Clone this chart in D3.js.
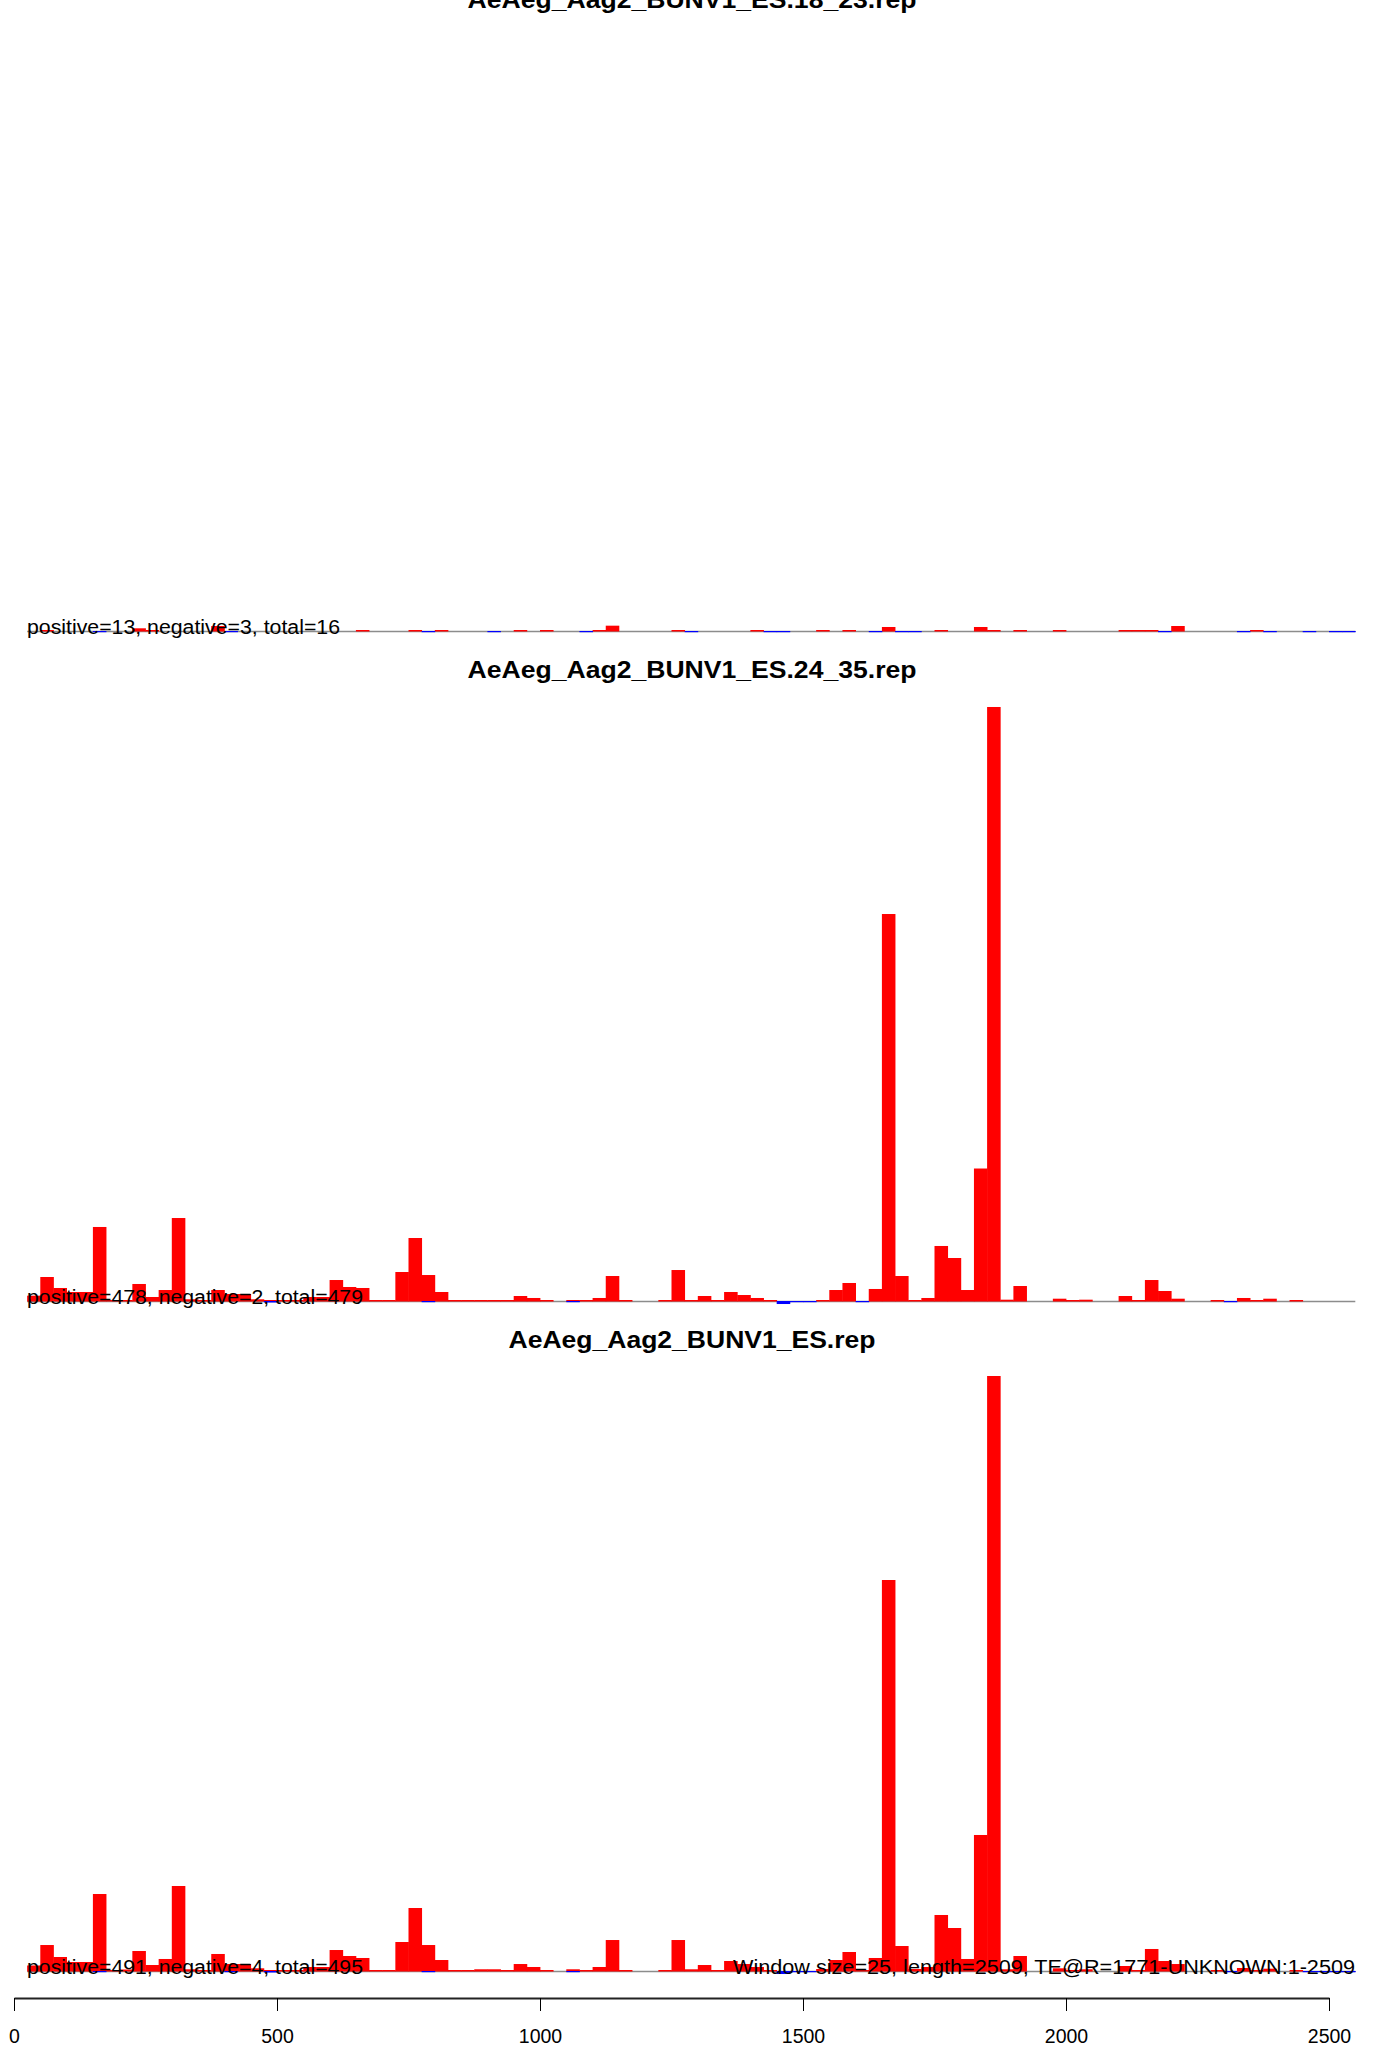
<!DOCTYPE html>
<html>
<head>
<meta charset="utf-8">
<script src="https://cdn.jsdelivr.net/npm/d3@7"></script>
<style>
  html, body { margin: 0; padding: 0; background: #fff; }
  svg { display: block; }
  text { font-family: "Liberation Sans", Arial, Helvetica, sans-serif; }
</style>
</head>
<body>
<svg id="chart" width="1384" height="2049"></svg>
<script>
// ---------- DATA ----------
const windowSize = 25;
const seqLength = 2509;
const axisTicks = [0, 500, 1000, 1500, 2000, 2500];

const panelTitles = [
  "AeAeg_Aag2_BUNV1_ES.18_23.rep",
  "AeAeg_Aag2_BUNV1_ES.24_35.rep",
  "AeAeg_Aag2_BUNV1_ES.rep"
];
const panelInfo = [
  "positive=13, negative=3, total=16",
  "positive=478, negative=2, total=479",
  "positive=491, negative=4, total=495"
];
const footerText = "Window size=25, length=2509, TE@R=1771-UNKNOWN:1-2509";

// per-window (25 nt) sense (positive) values; null = no window drawn, 0 = zero-height line
const pos18_23 = [
  null,null,0,null,null,null,null,null,null,0.68,
  0.25,null,null,null,null,1.26,null,null,null,null,
  null,null,null,null,null,null,0,null,null,null,
  0,null,0.25,null,null,null,null,null,0.25,null,
  0,null,null,null,0,1.34,null,null,null,null,
  0,null,null,null,null,null,0,null,null,null,
  null,0,null,0,null,null,1.01,null,null,null,
  0,null,null,1.01,0.25,null,0,null,null,0,
  null,null,null,null,0,0,0,null,1.26,null,
  null,null,null,null,0,null,null,null,null,null,
  null,null
];
const neg18_23 = [
  null,null,null,null,null,null,0,null,null,null,
  null,null,null,null,null,null,0,null,null,null,
  null,null,null,null,null,null,null,null,null,null,
  null,0,null,null,null,null,0,null,null,null,
  null,null,null,0,null,null,null,null,null,null,
  null,0,null,null,null,null,null,0,0.25,null,
  null,null,null,null,null,0,null,0,0,null,
  null,null,null,null,null,null,null,null,null,null,
  null,null,null,null,null,null,null,0,null,null,
  null,null,null,0,null,0,null,null,0,null,
  0,0
];

const pos24_35 = [
  null,1.34,6.05,3.28,2.27,2.27,18.66,0.25,0.25,4.29,
  1.01,2.77,20.92,0.43,0.25,2.77,1.76,1.76,0.43,0,
  0.25,0.25,1.01,1.01,5.29,3.53,3.28,0.25,0,7.31,
  15.88,6.55,2.27,0,0,0.25,0.25,0,1.26,0.76,
  0,null,0.25,0,0.76,6.3,0.25,null,null,0,
  7.81,0.25,1.26,0,2.27,1.51,0.76,0,null,null,
  null,0.25,2.77,4.54,null,3.03,97.56,6.3,0,0.76,
  13.87,10.84,2.77,33.4,149.75,0.33,3.78,null,null,0.58,
  0,0.33,null,null,1.26,0,5.29,2.52,0.58,null,
  null,0,null,0.76,0,0.58,null,0,null,null,
  null,null
];
const neg24_35 = [
  null,null,null,null,null,null,null,null,null,null,
  null,null,null,null,null,null,null,null,null,0.38,
  null,null,null,null,null,null,null,null,null,null,
  null,0,null,null,null,null,null,null,null,null,
  null,null,0,null,null,null,null,null,null,null,
  null,null,null,null,null,null,null,null,0.76,0,
  0,null,null,null,0,null,null,null,null,null,
  null,null,null,null,null,null,null,null,null,null,
  null,null,null,null,null,null,null,null,null,null,
  null,null,0,null,null,null,null,null,null,null,
  null,null
];

const posAll = [
  null,1.39,6.55,3.53,2.27,2.27,19.41,0.25,0.38,5.04,
  1.51,3.03,21.43,0.43,0.25,4.29,1.76,1.76,0.68,0,
  0.25,0.25,1.01,1.01,5.29,3.78,3.28,0.25,0,7.31,
  15.88,6.55,2.77,0.25,0.25,0.43,0.43,0,1.76,1.01,
  0.25,null,0.43,0.25,1.01,7.81,0.25,null,null,0.25,
  7.81,0.43,1.51,0.25,2.52,1.76,1.01,0,null,null,
  null,0.5,2.77,4.79,0.25,3.28,98.57,6.3,0.5,1.01,
  14.12,10.84,3.03,34.29,150,0.43,3.78,null,null,0.68,
  0,0.43,null,null,1.26,0.25,5.55,2.52,1.76,null,
  null,0,null,0.76,0,0.58,null,0,null,null,
  null,null
];
const negAll = [
  null,null,null,null,null,null,0,null,null,null,
  null,null,null,null,null,null,0,null,null,0.38,
  null,null,null,null,null,null,null,null,null,null,
  null,0,null,null,null,null,null,null,null,null,
  null,null,0,null,null,null,null,null,null,null,
  null,null,null,null,null,null,null,null,0.76,0,
  0,null,null,null,null,null,null,null,null,null,
  null,null,null,null,null,null,null,null,null,null,
  null,null,null,null,null,null,null,null,null,null,
  null,null,0,null,null,null,null,null,0,0,
  0,0
];

const panelPos = [pos18_23, pos24_35, posAll];
const panelNeg = [neg18_23, neg24_35, negAll];
const yMax = 150;

// ---------- LAYOUT ----------
const svg = d3.select("#chart");
svg.append("rect").attr("width", 1384).attr("height", 2049).attr("fill", "#fff");

const x = d3.scaleLinear().domain([0, 2500]).range([14, 1329]);
const windowStarts = d3.range(0, pos24_35.length * windowSize, windowSize);

const baselines = [631, 1301, 1971];
const barHeightPx = 595;
const titleLengths = [449, 449, 367];
const infoLengths = [313, 336, 336];

panelTitles.forEach((title, i) => {
  const y0 = baselines[i];
  const y = d3.scaleLinear().domain([0, yMax]).range([y0, y0 - barHeightPx]);
  const g = svg.append("g");

  // grey baseline
  g.append("line")
    .attr("x1", x(windowStarts[1])).attr("x2", x(windowStarts[windowStarts.length - 1] + windowSize))
    .attr("y1", y0 + 0.5).attr("y2", y0 + 0.5)
    .attr("stroke", "#8c8c8c").attr("stroke-width", 1.5);

  const rows = windowStarts.map((s, k) => ({ s, p: panelPos[i][k], n: panelNeg[i][k] }));

  // sense bars (red)
  g.selectAll("rect.pos").data(rows.filter(d => d.p !== null)).join("rect")
    .attr("class", "pos")
    .attr("x", d => x(d.s))
    .attr("width", d => x(d.s + windowSize) - x(d.s) + 0.4)
    .attr("y", d => Math.min(y(d.p), y0 - 1))
    .attr("height", d => Math.max(y0 - y(d.p), 1) + 0.5)
    .attr("fill", "#ff0000");

  // antisense bars (blue)
  g.selectAll("rect.neg").data(rows.filter(d => d.n !== null)).join("rect")
    .attr("class", "neg")
    .attr("x", d => x(d.s))
    .attr("width", d => x(d.s + windowSize) - x(d.s) + 0.4)
    .attr("y", y0)
    .attr("height", d => Math.max(y(-d.n) - y0, 1.2))
    .attr("fill", "#0000ff");

  // title
  g.append("text")
    .attr("x", 692).attr("y", y0 - 623)
    .attr("text-anchor", "middle")
    .attr("font-size", 23).attr("font-weight", "bold")
    .attr("textLength", titleLengths[i]).attr("lengthAdjust", "spacingAndGlyphs")
    .text(title);

  // info
  g.append("text")
    .attr("x", 27).attr("y", y0 + 2.5)
    .attr("font-size", 19.5)
    .attr("textLength", infoLengths[i]).attr("lengthAdjust", "spacingAndGlyphs")
    .text(panelInfo[i]);
});

// footer text on last panel
svg.append("text")
  .attr("x", 1355).attr("y", baselines[2] + 2.5)
  .attr("text-anchor", "end")
  .attr("font-size", 19.5)
  .attr("textLength", 622).attr("lengthAdjust", "spacingAndGlyphs")
  .text(footerText);

// bottom axis
const axis = d3.axisBottom(x).tickValues(axisTicks).tickSize(13).tickSizeOuter(0)
  .tickPadding(18).tickFormat(d3.format("d"));
const ax = svg.append("g").attr("transform", "translate(0,1998)").call(axis);
ax.select(".domain").attr("stroke", "#222").attr("stroke-width", 2);
ax.selectAll(".tick line").attr("stroke", "#000").attr("stroke-width", 1);
ax.selectAll(".tick text").attr("font-size", 19.5).attr("fill", "#000")
  .attr("font-family", "\"Liberation Sans\", Arial, Helvetica, sans-serif");
</script>
</body>
</html>
